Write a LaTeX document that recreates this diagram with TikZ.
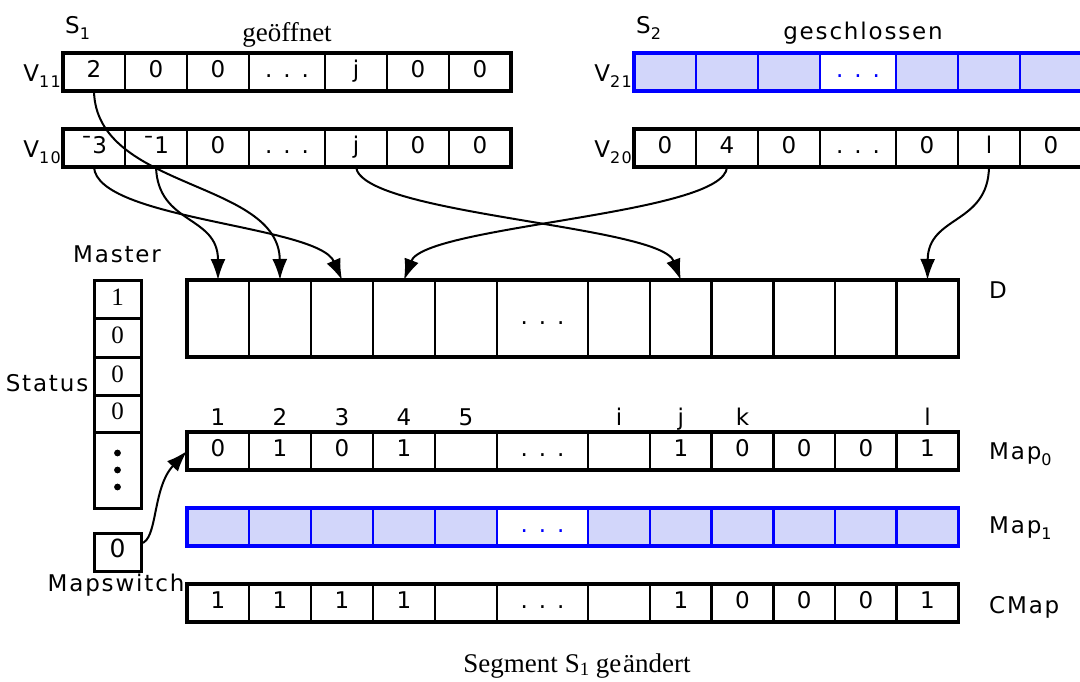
\documentclass[tikz,border=0pt]{standalone}
\usepackage{fontspec}
\usetikzlibrary{arrows.meta}
\newfontfamily\labfont[LetterSpace=8]{DejaVu Sans}
\newfontfamily\numfont{DejaVu Sans}
\newfontfamily\serfont{Liberation Serif}
\definecolor{segblue}{RGB}{0,0,255}
\definecolor{hatchblue}{RGB}{210,214,250}
\newcommand\lbl{\labfont\fontsize{23}{26}\selectfont}
\newcommand\cellfnt{\numfont\fontsize{23}{26}\selectfont}
\newcommand\serfnt{\serfont\fontsize{25}{28}\selectfont}
\newcommand\sbs[1]{\raisebox{-6pt}{\fontsize{16}{18}\selectfont #1}}
\newcommand\dotrow{.\hspace{11pt}.\hspace{11pt}.}
\begin{document}
\begin{tikzpicture}[x=1pt,y=-1pt,
  cell/.style={draw, line width=2.6pt, inner sep=0pt, outer sep=0pt, anchor=north west,
    minimum height=38pt, text height=17pt, text depth=6pt, font=\cellfnt},
  dcell/.style={cell, minimum height=77pt},
  bcell/.style={cell, draw=segblue, fill=hatchblue},
  bgap/.style={cell, draw=segblue, fill=white, text=segblue},
  frame/.style={draw, line width=3.4pt},
  bframe/.style={draw=segblue, line width=3.6pt},
  stcell/.style={draw, line width=3pt, inner sep=0pt, outer sep=0pt, anchor=north west,
    minimum width=47pt, text height=16pt, text depth=4pt, font=\serfnt},
  lab/.style={font=\lbl, inner sep=0pt},
  conn/.style={line width=2pt, -{Latex[length=21pt,width=15pt]}},
]
\useasboundingbox (0,0) rectangle (1080,681);
\clip (0,0) rectangle (1080,681);

% ---------- segment S1 (open): version vectors V11 and V10
\foreach \n/\x/\w/\t in {1/63/62/2,2/125/62/0,3/187/62/0,4/249/76/\dotrow,5/325/62/j,6/387/62/0,7/449/62/0}
  \node[cell, minimum width=\w pt] (va\n) at (\x,53) {\t};
\foreach \n/\x/\w/\t in {1/63/62/¯3,2/125/62/¯1,3/187/62/0,4/249/76/\dotrow,5/325/62/j,6/387/62/0,7/449/62/0}
  \node[cell, minimum width=\w pt] (vb\n) at (\x,129) {\t};
\draw[frame] (va1.north west) rectangle (va7.south east);
\draw[frame] (vb1.north west) rectangle (vb7.south east);

% ---------- segment S2 (closed): V21 shadowed, V20
\foreach \n/\x/\w in {1/634/62,2/696/62,3/758/62,5/896/62,6/958/62,7/1020/62}
  \node[bcell, minimum width=\w pt] (vc\n) at (\x,53) {};
\node[bgap, minimum width=76pt] (vc4) at (820,53) {\dotrow};
\draw[bframe] (vc1.north west) rectangle (vc7.south east);
\foreach \n/\x/\w/\t in {1/634/62/0,2/696/62/4,3/758/62/0,4/820/76/\dotrow,5/896/62/0,6/958/62/l,7/1020/62/0}
  \node[cell, minimum width=\w pt] (vd\n) at (\x,129) {\t};
\draw[frame] (vd1.north west) rectangle (vd7.south east);

% ---------- data area D
\foreach \n/\x/\w/\t in {1/187/62/{},2/249/62/{},3/311/62/{},4/373/62/{},5/435/62/{},6/497/91/\dotrow,
    7/588/62/{},8/650/61.7/{},9/711.7/61.7/{},10/773.4/61.7/{},11/835.1/61.6/{},12/896.7/61.6/{}}
  \node[dcell, minimum width=\w pt] (d\n) at (\x,280) {\t};
\draw[frame] (d1.north west) rectangle (d12.south east);

% ---------- maps
\foreach \n/\x/\w/\t in {1/187/62/0,2/249/62/1,3/311/62/0,4/373/62/1,5/435/62/{},6/497/91/\dotrow,
    7/588/62/{},8/650/61.7/1,9/711.7/61.7/0,10/773.4/61.7/0,11/835.1/61.6/0,12/896.7/61.6/1}
  \node[cell, minimum width=\w pt] (ma\n) at (\x,432) {\t};
\draw[frame] (ma1.north west) rectangle (ma12.south east);

\foreach \n/\x/\w in {1/187/62,2/249/62,3/311/62,4/373/62,5/435/62,
    7/588/62,8/650/61.7,9/711.7/61.7,10/773.4/61.7,11/835.1/61.6,12/896.7/61.6}
  \node[bcell, minimum width=\w pt] (mb\n) at (\x,508) {};
\node[bgap, minimum width=91pt] (mb6) at (497,508) {\dotrow};
\draw[bframe] (mb1.north west) rectangle (mb12.south east);

\foreach \n/\x/\w/\t in {1/187/62/1,2/249/62/1,3/311/62/1,4/373/62/1,5/435/62/{},6/497/91/\dotrow,
    7/588/62/{},8/650/61.7/1,9/711.7/61.7/0,10/773.4/61.7/0,11/835.1/61.6/0,12/896.7/61.6/1}
  \node[cell, minimum width=\w pt] (mc\n) at (\x,584) {\t};
\draw[frame] (mc1.north west) rectangle (mc12.south east);

% column indices above Map0
\foreach \n/\x/\t in {c1/218/1,c2/280/2,c3/342/3,c4/404/4,c5/466/5,ci/619/i,cj/680.8/j,ck/742.5/k,cl/927.5/l}
  \node[lab, anchor=base] (idx\n) at (\x,425) {\t};

% ---------- master status column and map switch
\node[stcell, minimum height=38pt] (st1) at (94,280) {1};
\node[stcell, minimum height=39pt] (st2) at (94,318) {0};
\node[stcell, minimum height=38pt] (st3) at (94,357) {0};
\node[stcell, minimum height=37pt] (st4) at (94,395) {0};
\node[stcell, minimum height=76pt] (st5) at (94,432) {};
\fill ([yshift=17pt]st5.center) circle (3.4pt);
\fill (st5.center) circle (3.4pt);
\fill ([yshift=-17pt]st5.center) circle (3.4pt);
\node[cell, line width=3pt, minimum width=47pt, font=\numfont\fontsize{25}{28}\selectfont] (ms) at (94,533) {0};

% ---------- labels
\node[lab, anchor=base west] (s1) at (65,33) {S\sbs{1}};
\node[inner sep=0pt, anchor=base, font=\serfont\fontsize{27}{30}\selectfont] (open) at (287,41) {geöffnet};
\node[lab, anchor=base west] (s2) at (636,33) {S\sbs{2}};
\node[lab, anchor=base] (closed) at (863,39) {geschlossen};
\node[lab, anchor=base east] (lva) at (61,81) {V\sbs{11}};
\node[lab, anchor=base east] (lvb) at (61,157) {V\sbs{10}};
\node[lab, anchor=base east] (lvc) at (632,81) {V\sbs{21}};
\node[lab, anchor=base east] (lvd) at (632,157) {V\sbs{20}};
\node[lab, anchor=base] (master) at (117,262) {Master};
\node[lab, anchor=base] (status) at (47,391) {Status};
\node[lab, anchor=base] (mswitch) at (116,591) {Mapswitch};
\node[lab, anchor=base west] (ld) at (989,298) {D};
\node[lab, anchor=base west] (lma) at (989,459) {Map\sbs{0}};
\node[lab, anchor=base west] (lmb) at (989,533) {Map\sbs{1}};
\node[lab, anchor=base west] (lmc) at (989,613) {CMap};
\node[inner sep=0pt, anchor=base, font=\serfont\fontsize{27}{30}\selectfont] (caption) at (577,672)
  {Segment\hspace{7pt}S\textsubscript{1}\hspace{6pt}ge\hspace{2pt}ändert};

% ---------- pointers from the version vectors into D
\draw[conn] (va1.south) .. controls (96,190) and (279,180) .. (d2.north);
\draw[conn] (vb1.south) .. controls (97,220) and (318,225) .. (d3.north);
\draw[conn] (vb2.south) .. controls (158,225) and (218,215) .. (d1.north);
\draw[conn] (vb5.south) .. controls (362,215) and (660,225) .. (d8.north);
\draw[conn] (vd2.south) .. controls (725,215) and (425,225) .. (d4.north);
\draw[conn] (vd6.south) .. controls (988,225) and (928,215) .. (d12.north);
\draw[conn] (ms.20) .. controls (158,540) and (152,488) .. (ma1.west);
\end{tikzpicture}
\end{document}
